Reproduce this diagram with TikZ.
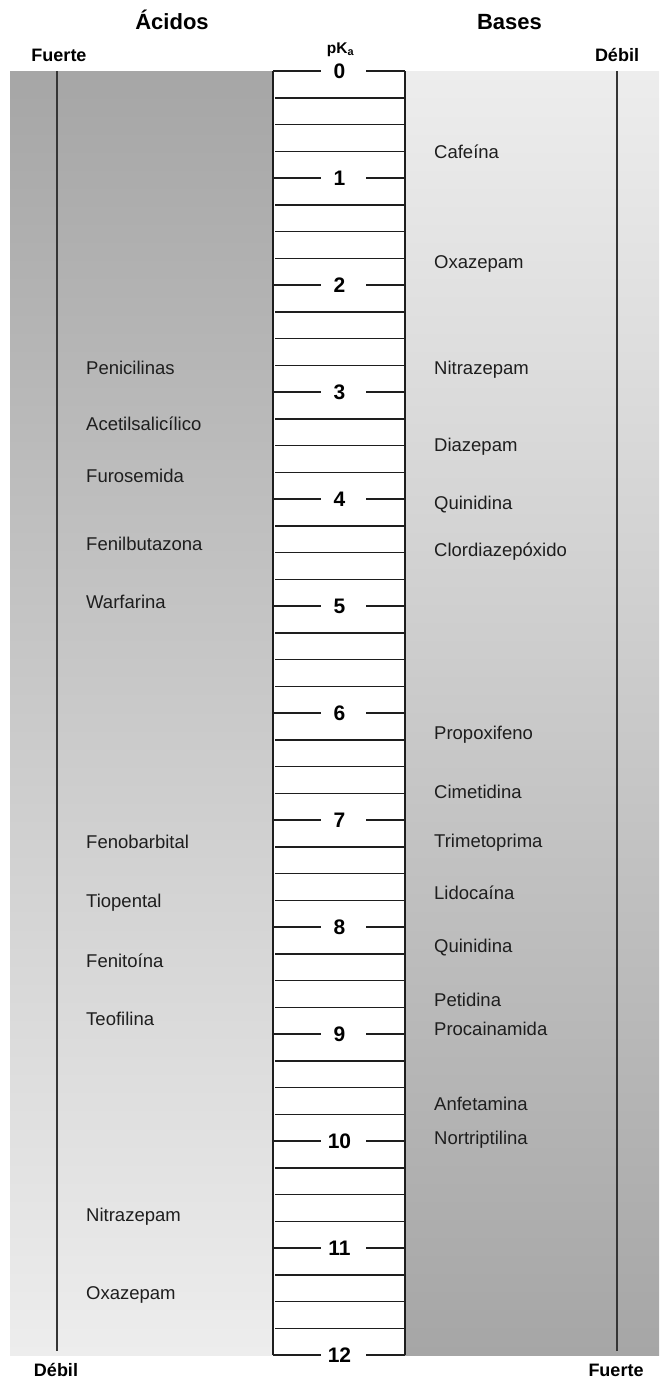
\documentclass[tikz,border=0pt]{standalone}
\usepackage{fontspec}
\setmainfont{Liberation Sans}
\definecolor{bandDark}{HTML}{A6A6A6}
\definecolor{bandLight}{HTML}{EDEDED}
\definecolor{inkGray}{HTML}{1E1E1E}
\tikzstyle{title} = [font=\fontsize{22}{24}\selectfont\bfseries, inner sep=0pt, text height=15.7pt, text depth=0pt]
\tikzstyle{strength} = [font=\fontsize{18}{20}\selectfont\bfseries, inner sep=0pt, text height=12.9pt, text depth=0pt]
\tikzstyle{pkalabel} = [font=\fontsize{15.5}{17}\selectfont\bfseries, inner sep=0pt, anchor=base]
\tikzstyle{drug} = [anchor=west, font=\fontsize{18.5}{20}\selectfont, text=inkGray, inner sep=0pt, text height=13.2pt, text depth=0pt]
\tikzstyle{ticknum} = [font=\fontsize{21}{23}\selectfont\bfseries, inner sep=0pt, text height=15pt, text depth=0pt]
\tikzstyle{scaleline} = [draw=inkGray, line width=1.5pt]
\tikzstyle{boxside} = [draw=inkGray, line width=2pt]
\tikzstyle{strengthline} = [draw=inkGray!90, line width=1.8pt]

\begin{document}
\begin{tikzpicture}[x=1pt, y=-1pt]
\useasboundingbox (0,0) rectangle (661,1382);

% ===== BANDS =====
\shade[top color=bandDark, bottom color=bandLight] (10,71) rectangle (273,1355);
\shade[top color=bandLight, bottom color=bandDark] (405,71) rectangle (659,1355);
\draw[strengthline] (57,71) -- (57,1351);
\draw[strengthline] (617,71) -- (617,1351);

% ===== HEADERS =====
\node (acidos) [title] at (172,21.7) {Ácidos};
\node (bases) [title] at (509.5,21.7) {Bases};
\node (pka) [pkalabel] at (340.5,53.3) {pK\textsubscript{a}};
\node (fuerteTop) [strength] at (59,55.5) {Fuerte};
\node (debilTop) [strength] at (617,55.5) {Débil};
\node (debilBot) [strength] at (56,1370.5) {Débil};
\node (fuerteBot) [strength] at (616,1370.5) {Fuerte};

% ===== pKa SCALE =====
\draw[boxside] (273,71) -- (273,1355);
\draw[boxside] (405,71) -- (405,1355);
\foreach \n in {0,...,12} {
  \node (pk\n) [ticknum] at (339.5,{71+107*\n}) {\n};
  \draw[scaleline] (273,{71+107*\n}) -- (321,{71+107*\n});
  \draw[scaleline] (366,{71+107*\n}) -- (405,{71+107*\n});
}
\foreach \n in {0,...,11}
  \foreach \q in {1,2,3}
    \draw[scaleline] (275,{71+107*\n+26.75*\q}) -- (404,{71+107*\n+26.75*\q});

% ===== ACIDS (left side) =====
\node (aPenicilinas) [drug] at (86,368) {Penicilinas};
\node (aAcetil) [drug] at (86,424) {Acetilsalicílico};
\node (aFurosemida) [drug] at (86,476) {Furosemida};
\node (aFenilbutazona) [drug] at (86,544) {Fenilbutazona};
\node (aWarfarina) [drug] at (86,602) {Warfarina};
\node (aFenobarbital) [drug] at (86,842) {Fenobarbital};
\node (aTiopental) [drug] at (86,901) {Tiopental};
\node (aFenitoina) [drug] at (86,961) {Fenitoína};
\node (aTeofilina) [drug] at (86,1019) {Teofilina};
\node (aNitrazepam) [drug] at (86,1215) {Nitrazepam};
\node (aOxazepam) [drug] at (86,1293) {Oxazepam};

% ===== BASES (right side) =====
\node (bCafeina) [drug] at (434,152) {Cafeína};
\node (bOxazepam) [drug] at (434,262) {Oxazepam};
\node (bNitrazepam) [drug] at (434,368) {Nitrazepam};
\node (bDiazepam) [drug] at (434,445) {Diazepam};
\node (bQuinidinaA) [drug] at (434,503) {Quinidina};
\node (bClordiazepoxido) [drug] at (434,550) {Clordiazepóxido};
\node (bPropoxifeno) [drug] at (434,733) {Propoxifeno};
\node (bCimetidina) [drug] at (434,792) {Cimetidina};
\node (bTrimetoprima) [drug] at (434,841) {Trimetoprima};
\node (bLidocaina) [drug] at (434,893) {Lidocaína};
\node (bQuinidinaB) [drug] at (434,946) {Quinidina};
\node (bPetidina) [drug] at (434,1000) {Petidina};
\node (bProcainamida) [drug] at (434,1029) {Procainamida};
\node (bAnfetamina) [drug] at (434,1104) {Anfetamina};
\node (bNortriptilina) [drug] at (434,1138) {Nortriptilina};

\end{tikzpicture}
\end{document}
